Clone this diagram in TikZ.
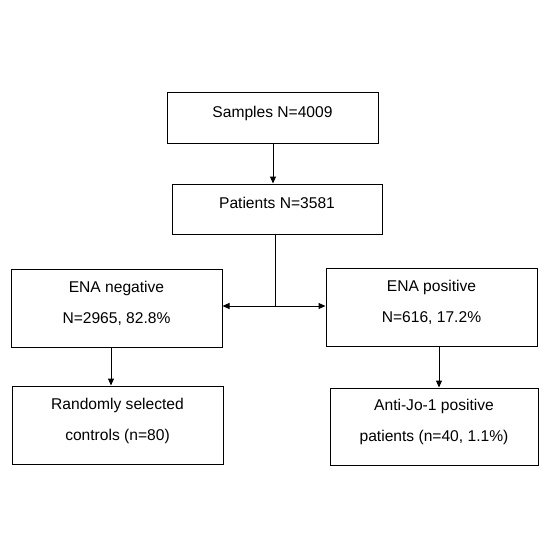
\documentclass[tikz,border=0pt]{standalone}
\usepackage{fontspec}
\setmainfont{Liberation Sans}
\usetikzlibrary{arrows.meta}
\begin{document}
\begin{tikzpicture}[x=1pt,y=-1pt,
  box/.style={draw=black,line width=1pt,rectangle,inner sep=0pt,align=center,
    font=\fontsize{15.6}{31}\selectfont,text depth=12pt},
  conn/.style={line width=1pt},
  arr/.style={conn,-{Triangle[length=7pt,width=6pt]}},
  darr/.style={conn,{Triangle[length=7pt,width=6pt]}-{Triangle[length=7pt,width=6pt]}}]
\useasboundingbox (0,0) rectangle (550,550);
\node[box,minimum width=211pt,minimum height=51pt] (b1) at (272.5,117.5) {Samples N=4009};
\node[box,minimum width=210pt,minimum height=50pt] (b2) at (277,209) {Patients N=3581};
\node[box,minimum width=211pt,minimum height=78pt] (neg) at (116.5,308) {ENA negative\\N=2965, 82.8\%};
\node[box,minimum width=211pt,minimum height=78pt] (pos) at (431.5,307) {ENA positive\\N=616, 17.2\%};
\node[box,minimum width=211pt,minimum height=78pt] (rand) at (117.5,425) {Randomly selected\\controls (n=80)};
\node[box,minimum width=208pt,minimum height=77pt] (anti) at (434,426.5) {Anti-Jo-1 positive\\patients (n=40, 1.1\%)};
\coordinate (J) at (275,306);
\coordinate (t1) at (273,0);
\coordinate (t2) at (111,0);
\coordinate (t3) at (439,0);
\draw[arr] (b1.south -| t1) -- (b2.north -| t1);
\draw[conn] (b2.south -| J) -- (J);
\draw[darr] (neg.east |- J) -- (pos.west |- J);
\draw[arr] (neg.south -| t2) -- (rand.north -| t2);
\draw[arr] (pos.south -| t3) -- (anti.north -| t3);
\end{tikzpicture}
\end{document}
